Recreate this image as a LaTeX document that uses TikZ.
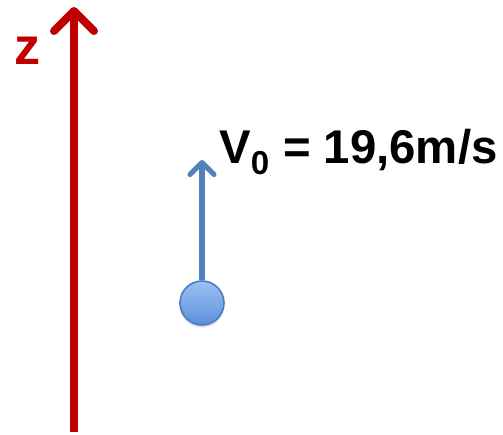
\documentclass[tikz,border=0pt]{standalone}
\usepackage{fontspec}
\setmainfont{Liberation Sans}
\usetikzlibrary{arrows.meta,shadows}
\definecolor{zred}{HTML}{C00000}
\definecolor{vblue}{HTML}{4F81BD}
\definecolor{balltop}{HTML}{9CC2F5}
\definecolor{ballbot}{HTML}{5B8FDB}
\definecolor{ballrim}{HTML}{4A7CC4}
\begin{document}
\begin{tikzpicture}[x=0.75pt,y=-0.75pt,
  axisarrow/.style={draw=zred,line width=6pt,-{Straight Barb[length=15pt,width=30pt,line width=6pt,round]}},
  velarrow/.style={draw=vblue,line width=3.8pt,-{Straight Barb[length=9pt,width=18pt,line width=3.8pt,round]}},
  lbl/.style={inner sep=0pt,font=\bfseries}]
\useasboundingbox (0,0) rectangle (503,435);
\coordinate (zbot) at (74,432);
\coordinate (ztop) at (74,7);
\draw[axisarrow] (zbot) -- (ztop);
\node[lbl,text=zred,font=\bfseries\fontsize{39}{40}\selectfont] (z) at (27,51) {z};
\node[circle,minimum size=33pt,inner sep=0pt,draw=ballrim,line width=1.2pt,
  top color=balltop,bottom color=ballbot,
  drop shadow={shadow xshift=0pt,shadow yshift=-2pt,opacity=0.25}] (ball) at (202,303) {};
\coordinate (vtop) at (202,160);
\draw[velarrow] (ball.north) -- (vtop);
\node[lbl,anchor=west,font=\bfseries\fontsize{35.5}{38}\selectfont] (v) at (219,152) {V\textsubscript{0} = 19,6m/s};
\end{tikzpicture}
\end{document}
